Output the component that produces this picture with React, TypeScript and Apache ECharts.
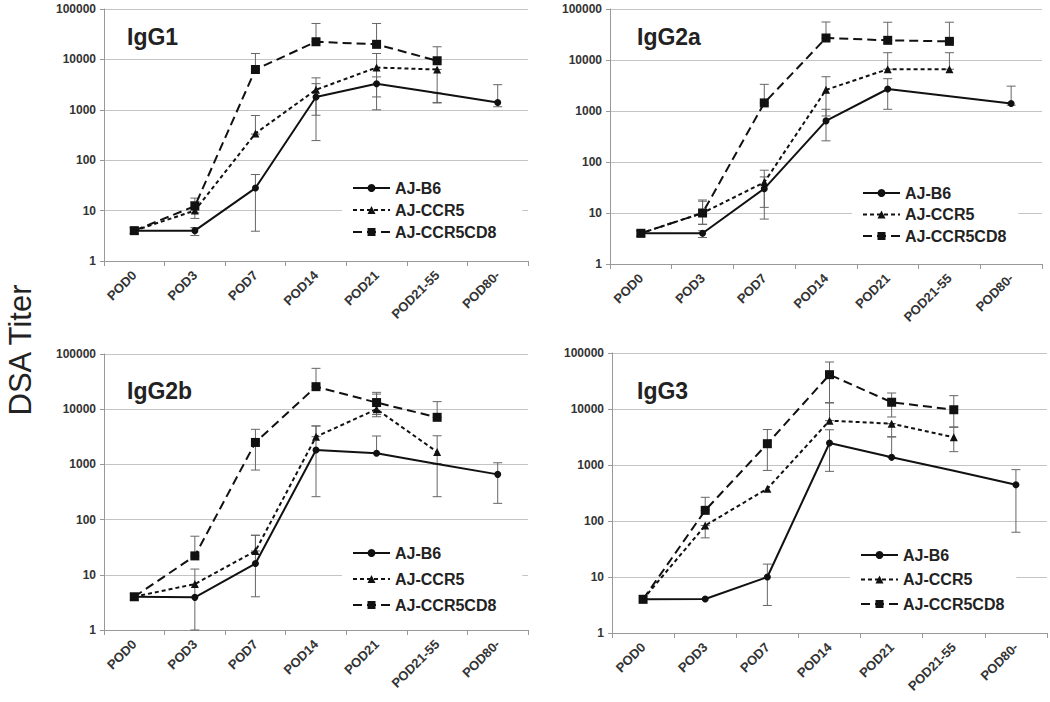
import React, { useEffect, useRef } from "react";
import * as echarts from "echarts";

const categories = ["POD0", "POD3", "POD7", "POD14", "POD21", "POD21-55", "POD80-"];
const seriesNames = ["AJ-B6", "AJ-CCR5", "AJ-CCR5CD8"];
const panelTitles = ["IgG1", "IgG2a", "IgG2b", "IgG3"];
const yTicks = [1, 10, 100, 1000, 10000, 100000];

type Pair = [number, number] | null;

// IgG1
const igg1B6 = [4, 4, 28, 1800, 3300, 2150, 1400];
const igg1B6Err: Pair[] = [[3.5, 4.5], [3.2, 4.6], [3.9, 52], [245, 3300], [1000, 4500], [1400, 2150], [1150, 3150]];
const igg1Ccr5 = [4, 10, 340, 2500, 6900, 6300, null];
const igg1Ccr5Err: Pair[] = [[3.5, 4.6], [7, 15], [330, 770], [780, 4300], [1800, 13100], [1365, 6300], null];
const igg1Cd8 = [4, 12.3, 6300, 22400, 19900, 9400, null];
const igg1Cd8Err: Pair[] = [[3.5, 4.6], [9, 17.7], [6300, 13100], [22400, 51600], [19900, 51600], [9400, 17800], null];

// IgG2a
const igg2aB6 = [4, 4, 30, 640, 2700, 1940, 1400];
const igg2aB6Err: Pair[] = [[3.5, 4.5], [3.3, 4.5], [7.6, 51], [260, 1080], [1080, 4300], null, [1300, 3070]];
const igg2aCcr5 = [4, 10, 40, 2600, 6600, 6600, null];
const igg2aCcr5Err: Pair[] = [[3.5, 4.5], [6, 18], [12.9, 69], [800, 4700], [6600, 13900], [6600, 13900], null];
const igg2aCd8 = [4, 10, 1440, 27000, 24300, 23200, null];
const igg2aCd8Err: Pair[] = [null, [6, 17], [1440, 3330], [27000, 55600], [24300, 55000], [23200, 55000], null];

// IgG2b
const igg2bB6 = [4, 3.9, 16, 1820, 1590, 1020, 660];
const igg2bB6Err: Pair[] = [[3.5, 4.5], [1, 12.7], [4, 52], [260, 4970], [1590, 3270], [260, 1020], [197, 1070]];
const igg2bCcr5 = [4, 6.8, 27, 3170, 10000, 1680, null];
const igg2bCcr5Err: Pair[] = [null, null, [27, 52], [3170, 4970], [7300, 18800], [1020, 3300], null];
const igg2bCd8 = [4, 22, 2500, 25600, 13200, 7130, null];
const igg2bCd8Err: Pair[] = [null, [22, 50], [790, 4320], [25600, 55000], [8000, 20200], [7130, 13700], null];

// IgG3
const igg3B6 = [4, 4.05, 10, 2470, 1370, 790, 445];
const igg3B6Err: Pair[] = [null, null, [3.1, 17], [770, 4260], [1370, 3160], null, [63, 826]];
const igg3Ccr5 = [4, 83, 378, 6200, 5470, 3120, null];
const igg3Ccr5Err: Pair[] = [null, [50, 83], null, [6200, 12800], [3200, 5470], [1730, 4700], null];
const igg3Cd8 = [4, 155, 2400, 41000, 13200, 9700, null];
const igg3Cd8Err: Pair[] = [null, [155, 265], [800, 4300], [13000, 69000], [7200, 19300], [4800, 17300], null];

const panelValues = [
  [igg1B6, igg1Ccr5, igg1Cd8],
  [igg2aB6, igg2aCcr5, igg2aCd8],
  [igg2bB6, igg2bCcr5, igg2bCd8],
  [igg3B6, igg3Ccr5, igg3Cd8],
];
const panelErrors = [
  [igg1B6Err, igg1Ccr5Err, igg1Cd8Err],
  [igg2aB6Err, igg2aCcr5Err, igg2aCd8Err],
  [igg2bB6Err, igg2bCcr5Err, igg2bCd8Err],
  [igg3B6Err, igg3Ccr5Err, igg3Cd8Err],
];

const FONT = "'Liberation Sans', Arial, sans-serif";

const grids = [
  { left: 104, top: 9, width: 424, height: 252 },
  { left: 610, top: 9, width: 432, height: 255 },
  { left: 104, top: 354, width: 424, height: 276 },
  { left: 612, top: 353, width: 435, height: 280 },
];
const titlePos = [
  { left: 127, top: 25 },
  { left: 637, top: 25 },
  { left: 127, top: 379 },
  { left: 637, top: 379 },
];
const legendPos = [
  { left: 342, top: 178, itemGap: 6, right: 26 },
  { left: 852, top: 183, itemGap: 5.5, right: 12 },
  { left: 342, top: 543, itemGap: 10, right: 26 },
  { left: 850, top: 545, itemGap: 8.5, right: 12 },
];

const lineStyles = [
  { type: "solid" as any, symbol: "circle", size: 7 },
  { type: [4, 3] as any, symbol: "triangle", size: 8 },
  { type: [9, 5] as any, symbol: "rect", size: 9 },
];

export default function App() {
  const ref = useRef<HTMLDivElement>(null);
  useEffect(() => {
    if (!ref.current) return;
    const chart = echarts.init(ref.current, undefined, { renderer: "svg" });

    const xAxis: any[] = [];
    const yAxis: any[] = [];
    const series: any[] = [];

    grids.forEach((g, i) => {
      xAxis.push({
        type: "category",
        gridIndex: i,
        data: categories,
        boundaryGap: true,
        axisLine: { lineStyle: { color: "#999", width: 1 } },
        axisTick: { show: true, length: 5, lineStyle: { color: "#999" } },
        axisLabel: {
          rotate: 45,
          margin: 12,
          color: "#333",
          fontSize: 13,
          fontWeight: "bold",
          fontFamily: FONT,
          interval: 0,
        },
        splitLine: { show: false },
      });
      yAxis.push({
        type: "log",
        logBase: 10,
        gridIndex: i,
        min: yTicks[0],
        max: yTicks[yTicks.length - 1],
        axisLine: { show: true, lineStyle: { color: "#999", width: 1 } },
        axisTick: { show: true, length: 4, lineStyle: { color: "#999" } },
        axisLabel: {
          margin: 8,
          color: "#333",
          fontSize: 12,
          fontWeight: "bold",
          fontFamily: FONT,
          formatter: (v: number) => String(Math.round(v)),
        },
        splitLine: { show: true, lineStyle: { color: "#c4c4c4", width: 1 } },
        minorTick: { show: false },
      });

      seriesNames.forEach((name, s) => {
        const errs = panelErrors[i][s];
        const errData: any[] = [];
        errs.forEach((e, k) => {
          if (e) errData.push([k, e[0], e[1]]);
        });
        series.push({
          type: "custom",
          name: name + " error",
          xAxisIndex: i,
          yAxisIndex: i,
          z: 1,
          silent: true,
          encode: { x: 0, y: [1, 2] },
          data: errData,
          renderItem: (params: any, api: any) => {
            const x = api.value(0);
            const pLo = api.coord([x, api.value(1)]);
            const pHi = api.coord([x, api.value(2)]);
            const w = 4.5;
            const st = { stroke: "#666", lineWidth: 1 };
            return {
              type: "group",
              children: [
                { type: "line", shape: { x1: pLo[0], y1: pLo[1], x2: pHi[0], y2: pHi[1] }, style: st },
                { type: "line", shape: { x1: pLo[0] - w, y1: pLo[1], x2: pLo[0] + w, y2: pLo[1] }, style: st },
                { type: "line", shape: { x1: pHi[0] - w, y1: pHi[1], x2: pHi[0] + w, y2: pHi[1] }, style: st },
              ],
            };
          },
        });
      });

      seriesNames.forEach((name, s) => {
        const vals = panelValues[i][s];
        const data = vals.map((v, k) => {
          if (v === null) return null;
          if (s === 0 && categories[k] === "POD21-55") return { value: v, symbol: "none" };
          return v;
        });
        const ls = lineStyles[s];
        series.push({
          type: "line",
          name,
          xAxisIndex: i,
          yAxisIndex: i,
          z: 3,
          data,
          symbol: ls.symbol,
          symbolSize: ls.size,
          showSymbol: true,
          lineStyle: { color: "#111", width: 2, type: ls.type },
          itemStyle: { color: "#111" },
        });
      });
    });

    const option: any = {
      animation: false,
      backgroundColor: "#fff",
      textStyle: { fontFamily: FONT },
      title: panelTitles.map((t, i) => ({
        text: t,
        left: titlePos[i].left,
        top: titlePos[i].top,
        padding: 0,
        textStyle: { fontSize: 23, fontWeight: "bold", color: "#222", fontFamily: FONT },
      })),
      legend: legendPos.map((p) => ({
        data: seriesNames,
        orient: "vertical",
        left: p.left,
        top: p.top,
        itemWidth: 37,
        itemHeight: 10,
        itemGap: p.itemGap,
        padding: [2, p.right, 2, 10],
        backgroundColor: "#fff",
        selectedMode: false,
        textStyle: { fontSize: 16, fontWeight: "bold", color: "#222", fontFamily: FONT, padding: [0, 0, 0, 0] },
      })),
      grid: grids.map((g) => ({ ...g, containLabel: false })),
      xAxis,
      yAxis,
      series,
      graphic: [
        {
          type: "text",
          x: 20,
          y: 350,
          rotation: Math.PI / 2,
          style: {
            text: "DSA Titer",
            fontSize: 31,
            fontFamily: FONT,
            fill: "#222",
            textAlign: "center",
            textVerticalAlign: "middle",
          },
        },
      ],
    };
    chart.setOption(option);
    return () => chart.dispose();
  }, []);
  return (
    <div
      ref={ref}
      style={{ position: "fixed", left: 0, top: 0, width: 1050, height: 702, background: "#fff" }}
    />
  );
}
